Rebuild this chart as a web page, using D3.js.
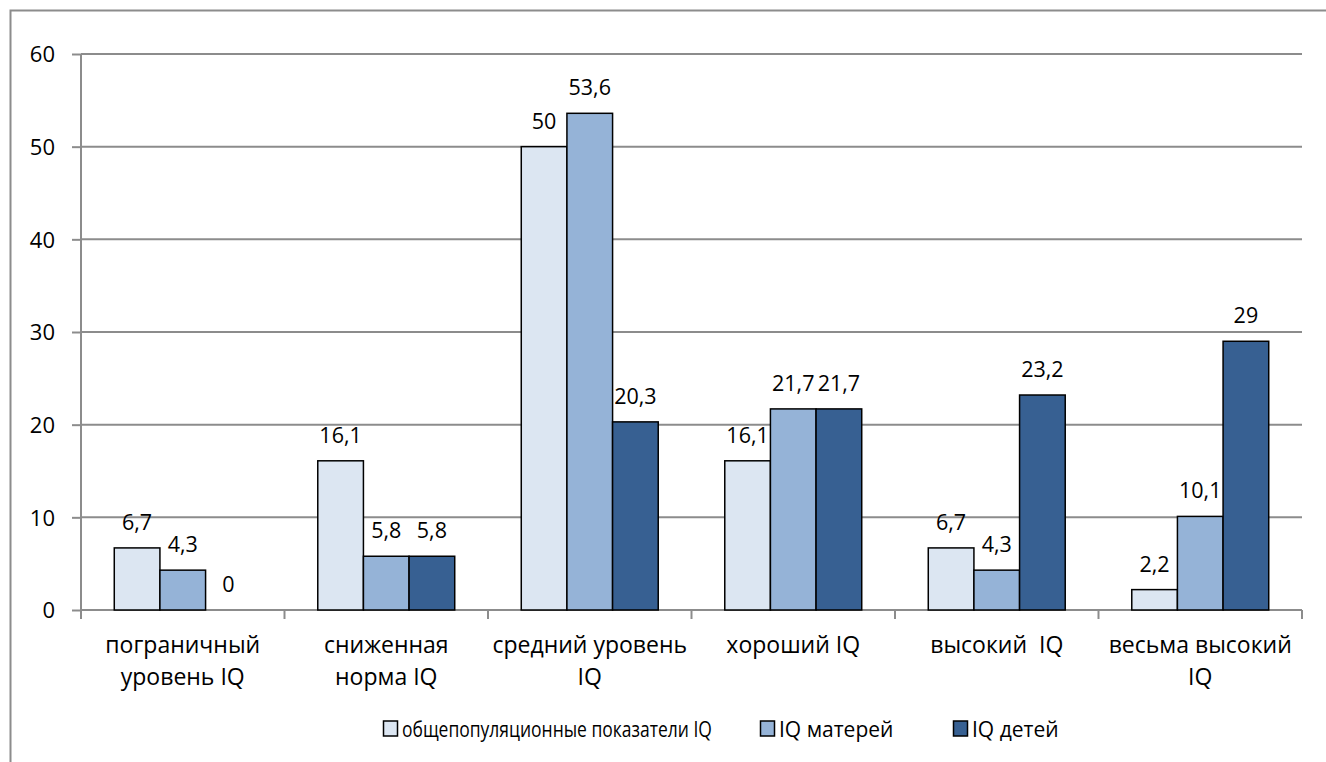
<!DOCTYPE html>
<html>
<head>
<meta charset="utf-8">
<script src="https://cdn.jsdelivr.net/npm/d3@7/dist/d3.min.js"></script>
<style>
    body { margin: 0; background: #fff; }
    text { font-family: "Open Sans", sans-serif; fill: #000; }
</style>
</head>
<body>
<div id="chart"></div>
<script>
var categories = [
    ["пограничный", "уровень IQ"],
    ["сниженная", "норма IQ"],
    ["средний уровень", "IQ"],
    ["хороший IQ"],
    ["высокий  IQ"],
    ["весьма высокий", "IQ"]
];
var seriesNames = ["общепопуляционные показатели IQ", "IQ матерей", "IQ детей"];
var seriesColors = ["#dce6f2", "#95b3d7", "#376092"];
var populationVals = [6.7, 16.1, 50, 16.1, 6.7, 2.2];
var motherVals = [4.3, 5.8, 53.6, 21.7, 4.3, 10.1];
var childVals = [0, 5.8, 20.3, 21.7, 23.2, 29];
var yTicks = [0, 10, 20, 30, 40, 50, 60];

var width = 1326, height = 762,
    margins = {top: 54, left: 81, right: 24, bottom: 152};

var svg = d3.select("#chart").append("svg")
    .attr("width", width)
    .attr("height", height);

// outer frame (runs off the right and bottom)
svg.append("rect")
    .attr("x", 10.5).attr("y", 10.5)
    .attr("width", 1340).attr("height", 780)
    .attr("fill", "none")
    .attr("stroke", "#8c8c8c")
    .attr("stroke-width", 2);

var plotW = width - margins.left - margins.right,
    plotH = height - margins.top - margins.bottom;

var g = svg.append("g").attr("transform", "translate(" + margins.left + "," + margins.top + ")");

var y = d3.scaleLinear().domain([0, 60]).range([plotH, 0]);
var x0 = d3.scaleBand()
    .domain(d3.range(categories.length))
    .range([0, plotW])
    .paddingInner(0.327)
    .paddingOuter(0.1635);
var x1 = d3.scaleBand()
    .domain(d3.range(3))
    .range([0, x0.bandwidth()]);

var step = x0.step();

// grid
g.selectAll("line.grid").data(yTicks.filter(function(d) { return d > 0; }))
    .enter().append("line")
    .attr("class", "grid")
    .attr("x1", 0).attr("x2", plotW)
    .attr("y1", function(d) { return y(d); })
    .attr("y2", function(d) { return y(d); })
    .attr("stroke", "#8c8c8c")
    .attr("stroke-width", 2);

// y axis
var yAxis = d3.axisLeft(y).tickValues(yTicks).tickSize(9).tickPadding(17).tickFormat(d3.format("d"));
var yg = g.append("g").call(yAxis);
yg.select(".domain").attr("stroke", "#8c8c8c").attr("stroke-width", 2).attr("d", "M0," + plotH + "V0");
yg.selectAll(".tick line").attr("stroke", "#8c8c8c").attr("stroke-width", 2);
yg.selectAll(".tick text").style("font-size", "22px").attr("dy", "0.35em");

// x axis line + category separators
g.append("line")
    .attr("x1", 0).attr("x2", plotW)
    .attr("y1", plotH).attr("y2", plotH)
    .attr("stroke", "#8c8c8c").attr("stroke-width", 2);
g.selectAll("line.sep").data(d3.range(categories.length + 1))
    .enter().append("line")
    .attr("class", "sep")
    .attr("x1", function(i) { return i * step; })
    .attr("x2", function(i) { return i * step; })
    .attr("y1", plotH).attr("y2", plotH + 9)
    .attr("stroke", "#8c8c8c").attr("stroke-width", 2);

// bars
var data = categories.map(function(c, i) {
    return [populationVals[i], motherVals[i], childVals[i]];
});

var groups = g.selectAll("g.cat").data(data)
    .enter().append("g")
    .attr("class", "cat")
    .attr("transform", function(d, i) { return "translate(" + x0(i) + ",0)"; });

groups.selectAll("rect").data(function(d) { return d; })
    .enter().append("rect")
    .filter(function(d) { return d > 0; })
    .attr("x", function(d, j) { return x1(j); })
    .attr("y", function(d) { return y(d); })
    .attr("width", x1.bandwidth())
    .attr("height", function(d) { return plotH - y(d); })
    .attr("fill", function(d, j) { return seriesColors[j]; })
    .attr("stroke", "#000")
    .attr("stroke-width", 1.5);

groups.selectAll("text.val").data(function(d) { return d; })
    .enter().append("text")
    .attr("class", "val")
    .attr("x", function(d, j) { return x1(j) + x1.bandwidth() / 2; })
    .attr("y", function(d) { return y(d) - 18; })
    .attr("text-anchor", "middle")
    .style("font-size", "21.5px")
    .text(function(d) { return String(d).replace(".", ","); });

// category labels
var labels = g.selectAll("text.cat").data(categories)
    .enter().append("text")
    .attr("class", "cat")
    .attr("text-anchor", "middle")
    .attr("transform", function(d, i) { return "translate(" + (i * step + step / 2) + "," + (plotH + 43) + ")"; })
    .style("font-size", "23px");
labels.selectAll("tspan").data(function(d) { return d; })
    .enter().append("tspan")
    .attr("x", 0)
    .attr("dy", function(d, k) { return k === 0 ? 0 : 32; })
    .style("white-space", "pre")
    .text(function(d) { return d; });

// legend (text squeezed a little to fit the original widths)
var legendX = [383, 760, 953];
var legendW = [310, 125, 97];
var legend = svg.selectAll("g.legend").data(seriesNames)
    .enter().append("g")
    .attr("class", "legend")
    .attr("transform", function(d, i) { return "translate(" + legendX[i] + ",728)"; });
legend.append("rect")
    .attr("x", 0.5).attr("y", -7)
    .attr("width", 14).attr("height", 15)
    .attr("fill", function(d, i) { return seriesColors[i]; })
    .attr("stroke", "#000").attr("stroke-width", 1.5);
legend.append("text")
    .attr("y", 9)
    .style("font-size", "21px")
    .text(function(d) { return d; })
    .each(function(d, i) {
        var natural = this.getComputedTextLength();
        var sx = Math.min(1, legendW[i] / natural);
        d3.select(this).attr("transform", "translate(19,0) scale(" + sx + ",1)");
    });
</script>
</body>
</html>
